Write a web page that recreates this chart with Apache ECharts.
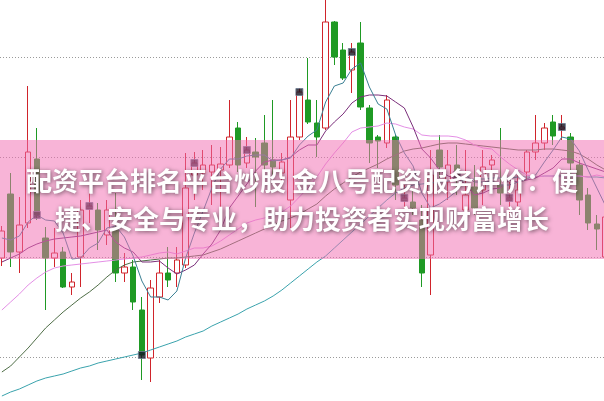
<!DOCTYPE html>
<html>
<head>
<meta charset="utf-8">
<script src="https://cdn.jsdelivr.net/npm/echarts@6/dist/echarts.min.js"></script>
<style>html,body{margin:0;padding:0;background:#fff;}#c{width:604px;height:401px;}</style>
</head>
<body>
<div id="c"></div>
<script>
const categories = [0,1,2,3,4,5,6,7,8,9,10,11,12,13,14,15,16,17,18,19,20,21,22,23,24,25,26,27,28,29,30,31,32,33,34,35,36,37,38,39,40,41,42,43,44,45,46,47,48,49,50,51,52,53,54,55,56,57,58,59,60,61,62,63,64,65,66,67,68,69];
const openV = [10.99,11.63,11.05,11.34,11.98,11.19,10.99,11.05,10.70,11.00, 11.48,11.47,11.22,11.29,10.84,10.90,10.47,9.99,10.60,10.84, 10.84,10.92,11.82,11.84,11.85,11.87,11.92,12.29,11.94,12.05, 12.14,11.97,11.84,11.57,12.20,12.57,12.34,12.29,13.35,13.07, 12.87,13.14,12.49,12.20,12.14,12.20,11.56,11.55,11.37,11.02, 12.07,11.75,11.92,11.47,11.70,11.67,11.92,11.72,11.57,11.55, 11.85,12.05,12.14,12.35,12.28,12.20,11.92,11.62,11.33,11.00];
const closeV = [11.26,11.05,11.32,12.05,11.42,10.99,11.04,10.70,10.75,11.47, 11.51,11.27,11.47,10.84,10.90,10.55,10.02,10.69,10.84,10.77, 10.97,11.69,11.94,11.92,11.92,11.93,12.20,11.92,12.07,12.00, 11.92,11.90,11.95,12.20,12.65,12.35,12.20,13.35,13.00,12.79, 13.05,12.50,12.14,12.16,12.57,11.72,11.59,11.49,10.84,11.82, 11.90,11.92,11.82,11.62,11.49,11.90,11.97,11.64,11.59,11.67, 12.05,12.14,12.29,12.21,12.30,11.94,11.57,11.34,11.28,11.40];
const lowV = [10.91,10.90,10.84,11.29,11.37,10.47,10.90,10.69,10.62,10.70, 11.34,11.07,11.12,10.75,10.75,10.47,9.77,9.75,10.54,10.70, 10.70,10.89,11.57,11.67,11.52,11.30,11.89,11.85,11.89,11.50, 11.87,11.79,11.72,11.29,12.17,12.33,12.00,12.27,12.92,12.77, 12.64,12.47,11.94,11.89,12.09,11.57,11.47,11.42,10.70,10.62, 11.79,11.57,11.62,11.42,11.42,11.52,11.67,11.52,11.42,11.47, 11.77,11.97,12.07,12.12,12.17,11.77,11.42,11.27,11.07,10.92];
const highV = [11.31,11.84,11.60,12.71,12.29,11.30,11.29,11.10,10.84,11.57, 11.64,11.54,11.57,11.64,11.04,10.97,10.60,10.77,10.97,11.10, 11.10,12.04,12.05,12.07,12.12,12.10,12.57,12.35,12.20,12.19, 12.42,12.57,12.04,12.57,12.69,12.99,12.57,13.62,13.36,13.14, 13.14,13.35,12.52,12.22,12.62,12.22,11.72,11.67,11.52,12.07, 12.22,12.07,12.12,12.07,11.92,12.07,12.02,12.29,11.75,11.82, 12.07,12.42,12.34,12.42,12.42,12.24,11.97,11.69,11.42,11.47];
const ma5 = [11.19,11.17,11.21,11.35,11.42,11.37,11.36,11.24,10.98,10.99, 11.09,11.14,11.29,11.31,11.20,11.01,10.76,10.60,10.60,10.57, 10.66,10.99,11.24,11.46,11.69,11.88,11.98,11.98,12.01,12.02, 12.02,11.96,11.97,11.99,12.12,12.21,12.27,12.55,12.71,12.74, 12.88,12.94,12.70,12.53,12.48,12.22,12.04,11.91,11.64,11.49, 11.53,11.59,11.66,11.82,11.75,11.75,11.76,11.72,11.72,11.75, 11.78,11.82,11.95,12.07,12.20,12.18,12.06,11.87,11.69,11.51];
const ma10 = [10.95,10.99,11.03,11.09,11.13,11.16,11.18,11.19,11.20,11.21, 11.23,11.25,11.27,11.15,11.09,11.05,10.95,10.95,10.96,10.89, 10.83,10.87,10.92,11.03,11.13,11.27,11.49,11.61,11.73,11.86, 11.95,11.97,11.97,12.00,12.07,12.12,12.12,12.26,12.35,12.43, 12.54,12.60,12.62,12.62,12.61,12.55,12.49,12.30,12.08,11.99, 11.87,11.81,11.78,11.73,11.62,11.64,11.68,11.69,11.77,11.75, 11.77,11.79,11.84,11.89,11.98,11.98,11.94,11.91,11.88,11.85];
const ma20 = [10.47,10.55,10.63,10.72,10.79,10.85,10.89,10.91,10.92,10.93, 10.94,10.95,10.96,10.97,10.98,10.99,11.00,11.02,11.04,11.05, 11.03,11.06,11.09,11.09,11.11,11.16,11.22,11.28,11.34,11.37, 11.39,11.42,11.45,11.51,11.60,11.69,11.80,11.93,12.04,12.14, 12.25,12.29,12.30,12.31,12.34,12.33,12.30,12.28,12.22,12.21, 12.21,12.21,12.20,12.17,12.12,12.09,12.08,12.00,11.93,11.87, 11.82,11.80,11.81,11.81,11.80,11.81,11.81,11.80,11.82,11.80];
const ma30 = [9.85,9.91,10.00,10.09,10.19,10.29,10.37,10.45,10.52,10.59, 10.65,10.72,10.80,10.87,10.92,10.95,10.96,10.97,10.98,10.99, 10.99,11.00,11.01,11.02,11.05,11.08,11.12,11.16,11.20,11.24, 11.28,11.32,11.36,11.39,11.43,11.48,11.53,11.61,11.68,11.74, 11.80,11.85,11.89,11.93,11.98,12.02,12.06,12.08,12.09,12.11, 12.13,12.14,12.14,12.13,12.12,12.11,12.10,12.09,12.08,12.07, 12.07,12.07,12.08,12.08,12.07,12.06,12.03,11.98,11.92,11.87];
const ma60 = [9.61,9.65,9.68,9.72,9.76,9.79,9.81,9.83,9.86,9.89, 9.91,9.94,9.96,9.98,10.00,10.02,10.04,10.07,10.10,10.13, 10.16,10.20,10.23,10.26,10.31,10.35,10.39,10.43,10.48,10.52, 10.56,10.61,10.67,10.74,10.81,10.88,10.95,11.01,11.09,11.17, 11.25,11.33,11.41,11.49,11.57,11.64,11.69,11.72,11.73,11.74, 11.75,11.76,11.77,11.77,11.78,11.78,11.79,11.79,11.79,11.80, 11.80,11.80,11.81,11.81,11.81,11.81,11.81,11.80,11.80,11.79];
const gridLevels = [10, 11, 12, 13];
const markerIdx = [4,10,16,22,28,34,40,46,52,58,64];
const titleLine1 = '配资平台排名平台炒股 金八号配资服务评价：便';
const titleLine2 = '捷、安全与专业，助力投资者实现财富增长';

const candleData = categories.map((x, i) => [x, openV[i], closeV[i], lowV[i], highV[i]]);
const pairs = arr => categories.map((x, i) => [x, arr[i]]);
const markerData = markerIdx.map(i => [categories[i], closeV[i]]);
const lineS = (name, data, color) => ({
  name, type: 'line', data: pairs(data), symbol: 'none', smooth: false, silent: true,
  lineStyle: { color, width: 1 }, z: 3
});

const chart = echarts.init(document.getElementById('c'), null, { renderer: 'canvas' });
chart.setOption({
  animation: false,
  backgroundColor: '#ffffff',
  grid: { left: 0, right: 0, top: 0, bottom: 0, containLabel: false },
  xAxis: {
    type: 'value', min: -0.2143, max: 68.8143,
    axisLine: { show: false }, axisTick: { show: false }, axisLabel: { show: false },
    splitLine: { show: false }
  },
  yAxis: {
    type: 'value', min: 9.56, max: 13.57,
    axisLine: { show: false }, axisTick: { show: false }, axisLabel: { show: false },
    splitLine: { show: false }
  },
  series: [
    {
      type: 'candlestick', data: candleData, barWidth: 6, z: 2, clip: false,
      encode: { x: 0, y: [1, 2, 3, 4] },
      itemStyle: {
        color: '#ffffff', color0: '#1f9a24',
        borderColor: '#d0242b', borderColor0: '#1f9a24', borderWidth: 1
      },
      markLine: {
        silent: true, symbol: 'none', label: { show: false }, z: 1,
        lineStyle: { color: '#9a9a9a', type: [1, 2], width: 1 },
        data: gridLevels.map(v => ({ yAxis: v }))
      }
    },
    lineS('MA60', ma60, '#3aa3ad'),
    lineS('MA30', ma30, '#4f6e47'),
    lineS('MA20', ma20, '#e48fe6'),
    lineS('MA10', ma10, '#7b2f7b'),
    lineS('MA5', ma5, '#3a7f93'),
    {
      type: 'scatter', data: markerData, symbol: 'rect', symbolSize: [7, 7], z: 4,
      itemStyle: { color: '#141420', borderColor: '#6c7a90', borderWidth: 1 }
    }
  ],
  graphic: [
    { type: 'rect', left: 0, top: 140, z: 100, silent: true,
      shape: { width: 604, height: 119 },
      style: { fill: 'rgba(241,111,178,0.52)' } },
    { type: 'text', x: 302, y: 181, z: 101, silent: true,
      style: { text: titleLine1, fill: '#ffffff', align: 'center', verticalAlign: 'middle',
        font: 'bold 26px "Noto Sans CJK SC", sans-serif',
        textShadowColor: 'rgba(0,0,0,0.55)', textShadowBlur: 4, textShadowOffsetX: 1, textShadowOffsetY: 1 } },
    { type: 'text', x: 302, y: 219, z: 101, silent: true,
      style: { text: titleLine2, fill: '#ffffff', align: 'center', verticalAlign: 'middle',
        font: 'bold 26px "Noto Sans CJK SC", sans-serif',
        textShadowColor: 'rgba(0,0,0,0.55)', textShadowBlur: 4, textShadowOffsetX: 1, textShadowOffsetY: 1 } }
  ]
});
</script>
</body>
</html>
